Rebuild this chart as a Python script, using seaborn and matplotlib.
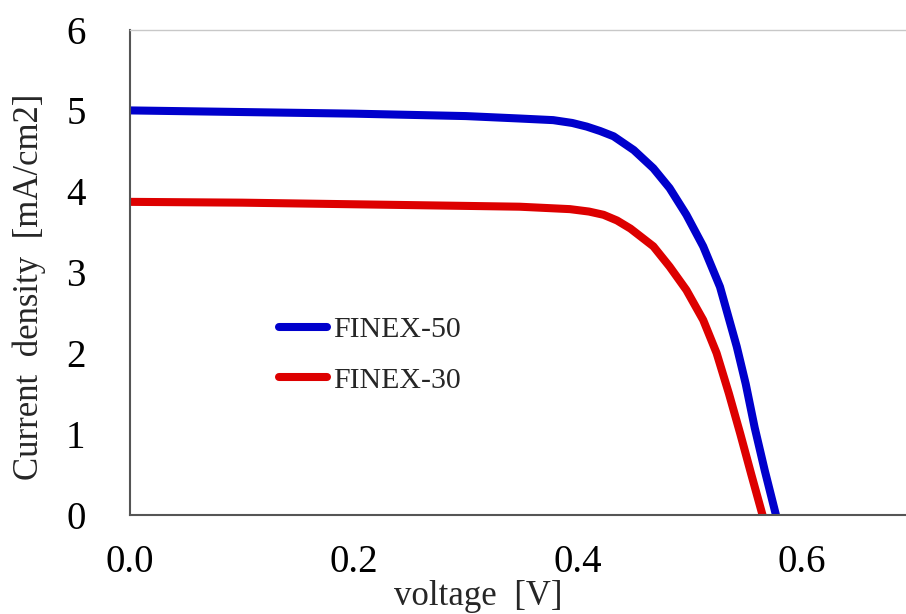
import matplotlib
matplotlib.use("Agg")
import matplotlib.pyplot as plt
import seaborn as sns
import pandas as pd

# Data
v_50 = [0.0, 0.1, 0.2, 0.3, 0.348, 0.378, 0.395, 0.408, 0.420, 0.432, 0.450, 0.4675, 0.482, 0.497, 0.512, 0.527, 0.542, 0.550, 0.558, 0.567, 0.577]
j_50 = [5.00, 4.98, 4.96, 4.93, 4.90, 4.88, 4.845, 4.80, 4.745, 4.68, 4.51, 4.285, 4.04, 3.71, 3.32, 2.82, 2.08, 1.62, 1.08, 0.55, 0.0]
v_30 = [0.0, 0.1, 0.2, 0.3, 0.348, 0.393, 0.410, 0.423, 0.435, 0.447, 0.4675, 0.482, 0.497, 0.512, 0.524, 0.535, 0.545, 0.555, 0.565]
j_30 = [3.87, 3.86, 3.84, 3.82, 3.81, 3.78, 3.75, 3.71, 3.64, 3.54, 3.32, 3.07, 2.78, 2.41, 2.00, 1.50, 1.01, 0.50, 0.0]
series_names = ["FINEX-50", "FINEX-30"]
x_ticks = [0.0, 0.2, 0.4, 0.6]
x_tick_labels = ["0.0", "0.2", "0.4", "0.6"]
y_ticks = [0, 1, 2, 3, 4, 5, 6]

df = pd.concat([
    pd.DataFrame({"voltage": v_50, "current": j_50, "sample": series_names[0]}),
    pd.DataFrame({"voltage": v_30, "current": j_30, "sample": series_names[1]}),
], ignore_index=True)

sns.set_style("white")
plt.rcParams["font.family"] = ["Liberation Serif", "DejaVu Serif"]
plt.rcParams["lines.solid_joinstyle"] = "round"

W, H = 906, 614
fig = plt.figure(figsize=(W / 100, H / 100), dpi=100)
left = 130 / W
bottom = (H - 515) / H
top = (H - 29.5) / H
width = (0.7 * 1119.5) / W
ax = fig.add_axes([left, bottom, width, top - bottom])

sns.lineplot(data=df, x="voltage", y="current", hue="sample", sort=False,
             palette={"FINEX-50": "#0000CC", "FINEX-30": "#DD0000"},
             linewidth=5.8, ax=ax, estimator=None)

ax.set_xlim(0, 0.7)
ax.set_ylim(0, 6)
ax.set_xticks(x_ticks)
ax.set_xticklabels(x_tick_labels)
ax.set_yticks(y_ticks)
ax.tick_params(axis="both", direction="in", length=10, width=1, color="#555555",
               labelsize=28, labelcolor="black")
ax.tick_params(axis="x", pad=21)
ax.tick_params(axis="y", pad=32)

for s in ["left", "bottom"]:
    ax.spines[s].set_color("#555555")
    ax.spines[s].set_linewidth(1.5)
ax.spines["top"].set_color("#C8C8C8")
ax.spines["top"].set_linewidth(1.0)
ax.spines["right"].set_visible(False)

ax.set_xlabel("voltage  [V]", fontsize=25)
ax.xaxis.set_label_coords((478 - 130) / 783.6, -(580 - 515) / 485.5)
ax.set_ylabel("Current  density  [mA/cm2]", fontsize=25)
ax.yaxis.set_label_coords(-(130 - 46) / 783.6, 0.47)

leg = ax.legend(loc="upper left", bbox_to_anchor=(0.175, 0.434), frameon=False,
                fontsize=21.5, handlelength=1.6, handletextpad=0.2, labelspacing=0.8,
                borderaxespad=0)
for line in leg.get_lines():
    line.set_linewidth(5.8)
    line.set_solid_capstyle("round")

fig.savefig("out.png", dpi=100)
